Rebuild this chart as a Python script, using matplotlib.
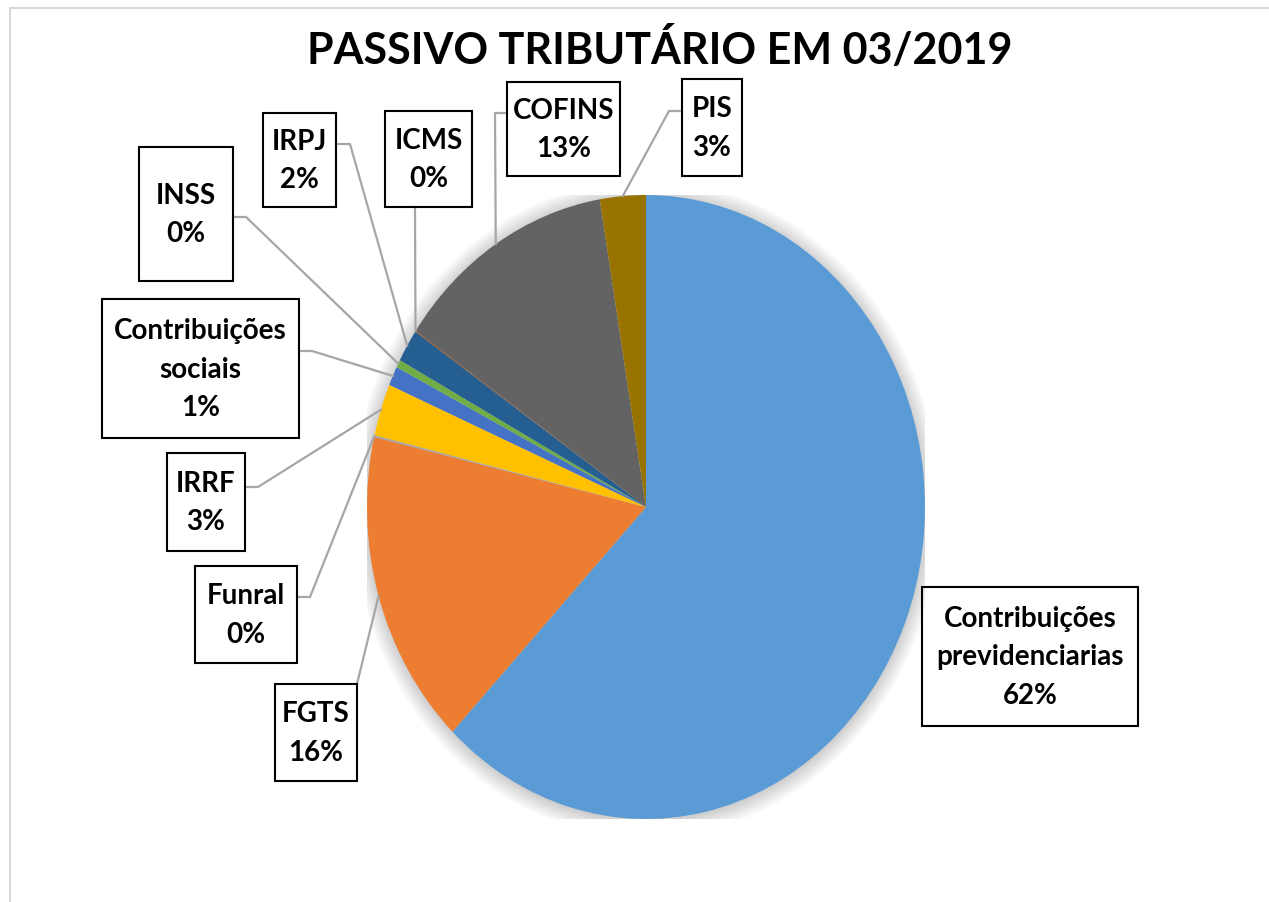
import matplotlib
matplotlib.use("Agg")
import matplotlib.pyplot as plt
from matplotlib.patches import Rectangle, Ellipse
from matplotlib.lines import Line2D
import numpy as np

plt.rcParams['font.family'] = ['Lato', 'DejaVu Sans']

# data (percent of total)
names = ['Contribuições\nprevidenciarias', 'FGTS', 'Funral', 'IRRF',
         'Contribuições\nsociais', 'INSS', 'IRPJ', 'ICMS', 'COFINS', 'PIS']
values = [62.2, 16.4, 0.1, 2.7, 1.0, 0.4, 1.7, 0.05, 12.8, 2.65]
colors = ['#5B9BD5', '#ED7D31', '#A5A5A5', '#FFC000', '#4472C4',
          '#70AD47', '#255E91', '#9E480E', '#636363', '#997300']
title = 'PASSIVO TRIBUTÁRIO EM 03/2019'

W, H = 1269, 903
# label boxes in pixels from top-left (x0, y0, x1, y1)
boxes = [(922, 588, 1138, 727), (275, 685, 357, 782), (195, 567, 297, 664),
         (167, 454, 245, 552), (102, 300, 299, 439), (139, 148, 233, 282),
         (263, 114, 336, 208), (385, 112, 472, 208), (507, 83, 620, 177),
         (682, 80, 742, 177)]
# leader start points (box side, elbow), None = no leader
leaders = [None, [(357, 685)], [(297, 598), (310, 598)],
           [(245, 488), (258, 488)], [(299, 352), (312, 352)],
           [(233, 218), (246, 218)], [(336, 145), (350, 145)],
           [(415, 208)], [(507, 114), (495, 114)], [(682, 112), (669, 112)]]


def fx(x, y):
    return x / W, 1 - y / H


fig = plt.figure(figsize=(W / 100, H / 100), dpi=100)
fig.patch.set_facecolor('white')

# pie is drawn stretched (ellipse), like the original
cx, cy, rx, ry = 646, 508, 279, 312
ax = fig.add_axes([(cx - rx) / W, 1 - (cy + ry) / H, 2 * rx / W, 2 * ry / H])

for k in range(10):
    ax.add_patch(Ellipse((0, -0.005), 2 * (1 + 0.006 * k), 2 * (1 + 0.006 * k),
                         color='black', alpha=0.018, lw=0, zorder=0))

wedges, _ = ax.pie(values, colors=colors, startangle=90, counterclock=False,
                   radius=1, wedgeprops=dict(linewidth=0))
ax.set_aspect('auto')
ax.set_xlim(-1, 1)
ax.set_ylim(-1, 1)
ax.axis('off')

total = sum(values)
inv = fig.transFigure.inverted()
for w, name, v, box, lead in zip(wedges, names, values, boxes, leaders):
    x0, y0, x1, y1 = box
    fig.add_artist(Rectangle(fx(x0, y1), (x1 - x0) / W, (y1 - y0) / H,
                             transform=fig.transFigure, fill=False,
                             ec='black', lw=1.5, zorder=5))
    label = f'{name}\n{round(v / total * 100):.0f}%'
    tx, ty = fx((x0 + x1) / 2, (y0 + y1) / 2)
    fig.text(tx, ty, label, ha='center', va='center', ma='center',
             fontsize=20, fontweight='bold', linespacing=1.6, zorder=6)
    if lead is None:
        continue
    ang = np.deg2rad((w.theta1 + w.theta2) / 2)
    rim = inv.transform(ax.transData.transform((np.cos(ang), np.sin(ang))))
    pts = [fx(*p) for p in lead] + [tuple(rim)]
    xs, ys = zip(*pts)
    fig.add_artist(Line2D(xs, ys, transform=fig.transFigure,
                          color='#A6A6A6', lw=1.6, zorder=4))

fig.text(660 / W, 1 - 50 / H, title, ha='center', va='center',
         fontsize=31, fontweight='bold')

# chart area border
fig.add_artist(Line2D([10 / W, 10 / W, 1.0], [0.0, 1 - 9 / H, 1 - 9 / H],
                      transform=fig.transFigure, color='#D9D9D9', lw=1.5))

fig.savefig('out.png', dpi=100)
